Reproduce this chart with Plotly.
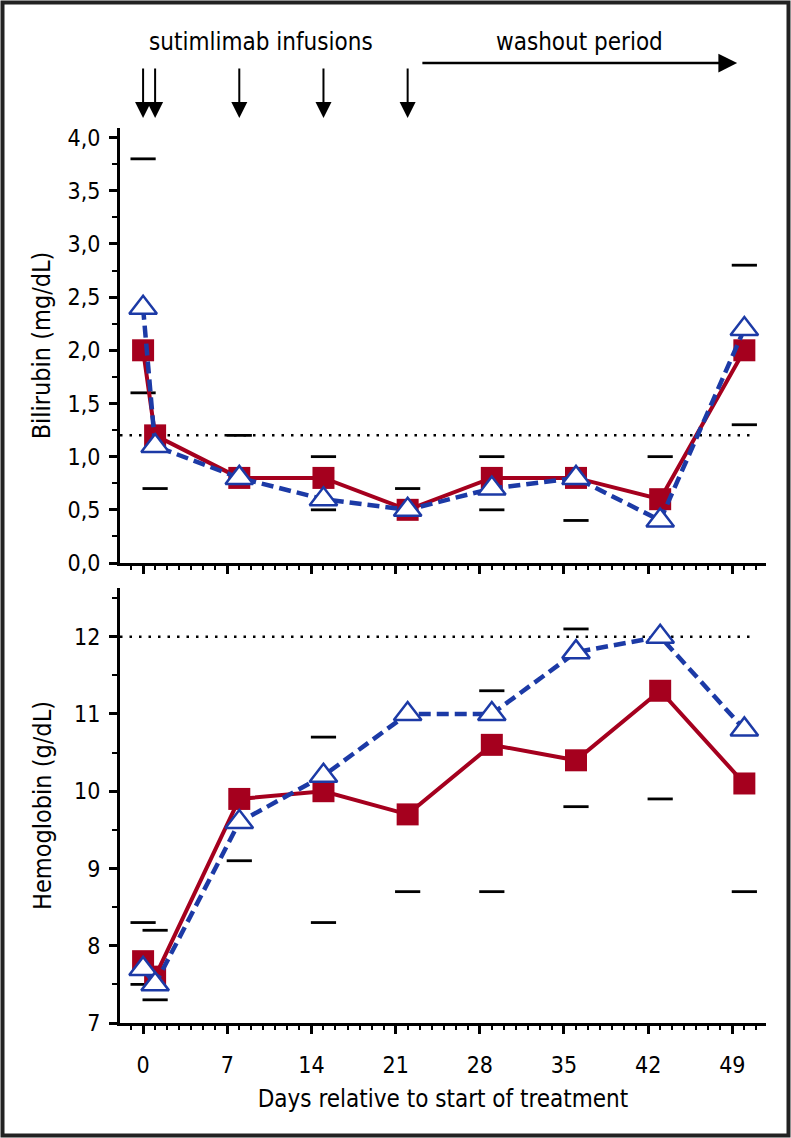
import plotly.graph_objects as go
from plotly.subplots import make_subplots

# ---------------- data ----------------
days = [0, 1, 8, 15, 22, 29, 36, 43, 50]
bili_red = [2.0, 1.2, 0.8, 0.8, 0.5, 0.8, 0.8, 0.6, 2.0]
bili_blue = [2.4, 1.1, 0.8, 0.6, 0.5, 0.7, 0.8, 0.4, 2.2]
bili_max = [3.8, None, 1.2, 1.0, 0.7, 1.0, None, 1.0, 2.8]
bili_min = [1.6, 0.7, None, 0.5, None, 0.5, 0.4, None, 1.3]
hb_red = [7.8, 7.6, 9.9, 10.0, 9.7, 10.6, 10.4, 11.3, 10.1]
hb_blue = [7.7, 7.5, 9.6, 10.2, 11.0, 11.0, 11.8, 12.0, 10.8]
hb_max = [8.3, 8.2, None, 10.7, None, 11.3, 12.1, None, None]
hb_min = [7.5, 7.3, 9.1, 8.3, 8.7, 8.7, 9.8, 9.9, 8.7]
infusion_days = [0, 1, 8, 15, 22]
washout_start, washout_end = 23.1, 49.4
bili_ref = 1.2
hb_ref = 12
x_ticks = [0, 7, 14, 21, 28, 35, 42, 49]

# ---------------- layout constants (pixels) ----------------
W, H = 791, 1138
L, R, T, B = 120, 766, 128, 1023
XMIN, XMAX = -1.92, 51.8
RED = "#A5001E"
BLUE = "#1C3AA6"
FONT = "DejaVu Sans Condensed, DejaVu Sans, sans-serif"


def py(ypix):
    return (B - ypix) / (B - T)


def px(xpix):
    return (xpix - L) / (R - L)


px_per_day = (R - L) / (XMAX - XMIN)

fig = make_subplots(rows=2, cols=1, vertical_spacing=0)

panels = [
    (1, bili_red, bili_blue, bili_max, bili_min),
    (2, hb_red, hb_blue, hb_max, hb_min),
]
for row, red, blue, vmax, vmin in panels:
    for rng in (vmax, vmin):
        fig.add_trace(go.Scatter(
            x=days, y=rng, mode="markers", showlegend=False, hoverinfo="skip",
            marker=dict(symbol="line-ew", size=18, line=dict(width=2.8, color="black")),
        ), row=row, col=1)
    fig.add_trace(go.Scatter(
        x=days, y=red, mode="lines+markers", showlegend=False,
        line=dict(color=RED, width=4),
        marker=dict(symbol="square", size=22, color=RED),
    ), row=row, col=1)
    fig.add_trace(go.Scatter(
        x=days, y=blue, mode="lines+markers", showlegend=False,
        line=dict(color=BLUE, width=4.5, dash="12px,6px"),
        marker=dict(symbol="triangle-up", size=24, color="white",
                    line=dict(color=BLUE, width=2.5)),
    ), row=row, col=1)

axis_common = dict(
    showline=True, linecolor="black", linewidth=3, mirror=False,
    showgrid=False, zeroline=False, ticks="outside", tickcolor="black",
    tickwidth=2.5, ticklen=8,
    tickfont=dict(family=FONT, size=23, color="black"),
)

xaxis_common = dict(axis_common, range=[XMIN, XMAX], tickmode="array", tickvals=x_ticks,
                    ticklabelstandoff=11,
                    minor=dict(dtick=1, tick0=0, ticks="outside", ticklen=4, tickwidth=2,
                               tickcolor="black"))

fig.update_xaxes(xaxis_common, showticklabels=False, row=1, col=1)
fig.update_xaxes(xaxis_common, showticklabels=True, row=2, col=1,
                 title=dict(text="Days relative to start of treatment",
                            font=dict(family=FONT, size=24, color="black"), standoff=14))

fig.update_yaxes(axis_common, range=[0, 4.09], dtick=0.5, tick0=0, tickformat=".1f",
                 ticklabelstandoff=4,
                 minor=dict(dtick=0.25, ticks="outside", ticklen=5, tickwidth=2, tickcolor="black"),
                 title=dict(text="Bilirubin (mg/dL)", font=dict(family=FONT, size=25, color="black"),
                            standoff=10),
                 domain=[py(563), 1.0], row=1, col=1)
fig.update_yaxes(axis_common, range=[7, 12.63], dtick=1, tick0=7,
                 ticklabelstandoff=4,
                 minor=dict(dtick=0.5, ticks="outside", ticklen=5, tickwidth=2, tickcolor="black"),
                 title=dict(text="Hemoglobin (g/dL)", font=dict(family=FONT, size=25, color="black"),
                            standoff=16),
                 domain=[0, py(588)], row=2, col=1)

# reference dotted lines
fig.add_shape(type="line", xref="x", yref="y", x0=XMIN, x1=50.75, y0=bili_ref, y1=bili_ref,
              line=dict(color="black", width=2.5, dash="2.5px,7px"), layer="below")
fig.add_shape(type="line", xref="x2", yref="y2", x0=XMIN, x1=50.75, y0=hb_ref, y1=hb_ref,
              line=dict(color="black", width=2.5, dash="2.5px,7px"), layer="below")

# outer frame
fig.add_shape(type="rect", xref="paper", yref="paper",
              x0=px(2.5), x1=px(W - 2.5), y0=py(H - 2.5), y1=py(2.5),
              line=dict(color="#222222", width=4), fillcolor="rgba(0,0,0,0)")

# infusion arrows
for d in infusion_days:
    fig.add_annotation(x=d, xref="x", y=py(118), yref="paper", text="",
                       showarrow=True, ax=0, ay=-51, axref="pixel", ayref="pixel",
                       arrowhead=2, arrowsize=1.6, arrowwidth=2, arrowcolor="black")

# washout arrow
fig.add_annotation(x=washout_end, xref="x", y=py(63), yref="paper", text="",
                   showarrow=True, ax=-(washout_end - washout_start) * px_per_day, ay=0,
                   axref="pixel", ayref="pixel",
                   arrowhead=2, arrowsize=1.5, arrowwidth=2.5, arrowcolor="black")

fig.add_annotation(x=9.8, xref="x", y=py(42), yref="paper", text="sutimlimab infusions",
                   showarrow=False, font=dict(family=FONT, size=24, color="black"),
                   xanchor="center", yanchor="middle")
fig.add_annotation(x=36.3, xref="x", y=py(42), yref="paper", text="washout period",
                   showarrow=False, font=dict(family=FONT, size=24, color="black"),
                   xanchor="center", yanchor="middle")

fig.update_layout(
    width=W, height=H,
    margin=dict(l=L, r=W - R, t=T, b=H - B),
    paper_bgcolor="white", plot_bgcolor="white",
    separators=",.",
    showlegend=False,
    font=dict(family=FONT, color="black"),
)

fig.write_html("out.html", config={"displayModeBar": False},
               post_script="document.body.style.margin='0';")
